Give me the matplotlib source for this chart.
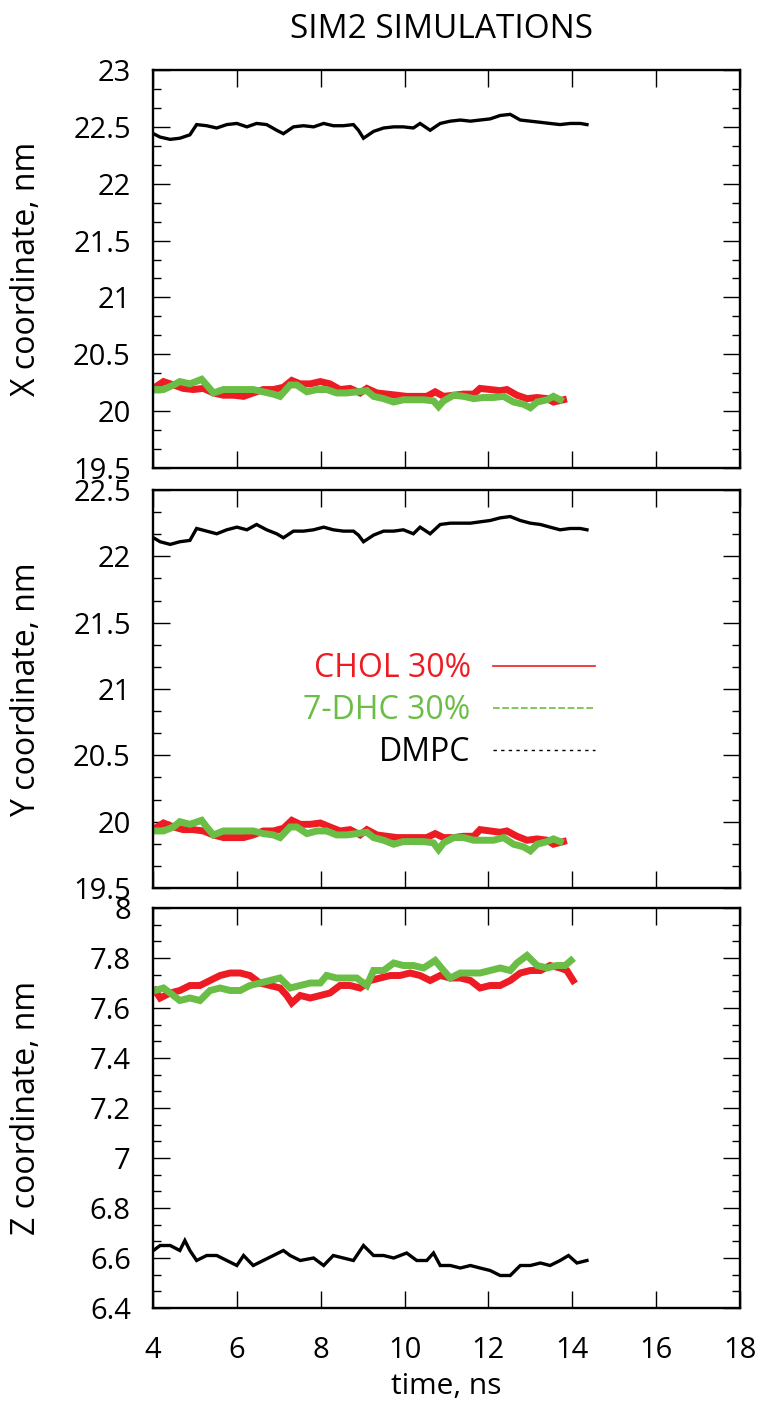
import matplotlib
matplotlib.use('Agg')
import matplotlib.pyplot as plt
from matplotlib.lines import Line2D
from matplotlib.ticker import MultipleLocator, FuncFormatter
from matplotlib.transforms import ScaledTranslation

plt.rcParams['font.family'] = ['Open Sans', 'DejaVu Sans']

# ---------------- data ----------------
title = "SIM2 SIMULATIONS"
series_labels = ["CHOL 30%", "7-DHC 30%", "DMPC"]
ylabels = ["X coordinate, nm", "Y coordinate, nm", "Z coordinate, nm"]
xlabel = "time, ns"

# DMPC (black), panels X and Y
t_dmpc = [4.01, 4.17, 4.41, 4.64, 4.88, 5.04, 5.28, 5.52, 5.76, 6.00, 6.24, 6.47, 6.71, 6.95,
          7.11, 7.35, 7.59, 7.83, 8.07, 8.30, 8.54, 8.78, 8.90, 9.02, 9.26, 9.50, 9.74, 9.97,
          10.21, 10.37, 10.61, 10.85, 11.09, 11.33, 11.57, 11.80, 12.04, 12.28, 12.52, 12.76,
          13.00, 13.24, 13.47, 13.71, 13.95, 14.19, 14.35]
x_dmpc = [22.44, 22.41, 22.39, 22.40, 22.43, 22.52, 22.51, 22.49, 22.52, 22.53, 22.50, 22.53,
          22.52, 22.47, 22.44, 22.50, 22.51, 22.50, 22.53, 22.51, 22.51, 22.52, 22.47, 22.40,
          22.46, 22.49, 22.50, 22.50, 22.49, 22.53, 22.47, 22.53, 22.55, 22.56, 22.55, 22.56,
          22.57, 22.60, 22.61, 22.56, 22.55, 22.54, 22.53, 22.52, 22.53, 22.53, 22.52]
y_dmpc = [22.14, 22.11, 22.09, 22.11, 22.12, 22.21, 22.19, 22.17, 22.20, 22.22, 22.20, 22.24,
          22.20, 22.17, 22.14, 22.19, 22.19, 22.20, 22.22, 22.20, 22.19, 22.19, 22.16, 22.11,
          22.16, 22.19, 22.19, 22.20, 22.17, 22.22, 22.17, 22.24, 22.25, 22.25, 22.25, 22.26,
          22.27, 22.29, 22.30, 22.27, 22.25, 22.24, 22.22, 22.20, 22.21, 22.21, 22.20]

# CHOL (red), panels X and Y
t_chol = [4.05, 4.25, 4.49, 4.72, 4.96, 5.20, 5.44, 5.68, 5.92, 6.16, 6.39, 6.63, 6.87, 7.11,
          7.31, 7.51, 7.75, 7.99, 8.22, 8.46, 8.70, 8.94, 9.10, 9.34, 9.58, 9.82, 10.05, 10.29,
          10.53, 10.73, 10.93, 11.17, 11.41, 11.65, 11.80, 12.04, 12.28, 12.44, 12.68, 12.92,
          13.16, 13.40, 13.55, 13.79]
x_chol = [20.21, 20.26, 20.23, 20.20, 20.19, 20.20, 20.16, 20.14, 20.14, 20.13, 20.16, 20.19,
          20.19, 20.21, 20.27, 20.24, 20.24, 20.26, 20.24, 20.19, 20.20, 20.16, 20.20, 20.16,
          20.15, 20.14, 20.13, 20.13, 20.13, 20.17, 20.13, 20.14, 20.15, 20.15, 20.20, 20.19,
          20.18, 20.19, 20.14, 20.11, 20.12, 20.11, 20.08, 20.10]
y_chol = [19.95, 19.99, 19.96, 19.94, 19.94, 19.93, 19.90, 19.88, 19.88, 19.88, 19.90, 19.93,
          19.93, 19.95, 20.01, 19.98, 19.98, 19.99, 19.96, 19.93, 19.94, 19.90, 19.94, 19.90,
          19.89, 19.88, 19.88, 19.88, 19.88, 19.91, 19.88, 19.88, 19.89, 19.89, 19.94, 19.93,
          19.92, 19.93, 19.89, 19.86, 19.87, 19.86, 19.83, 19.85]

# 7-DHC (green), panels X and Y
t_dhc = [4.05, 4.25, 4.49, 4.64, 4.88, 5.16, 5.28, 5.44, 5.68, 5.92, 6.16, 6.39, 6.63, 6.87,
         7.03, 7.27, 7.43, 7.67, 7.91, 8.14, 8.38, 8.62, 8.86, 9.10, 9.26, 9.50, 9.74, 9.97,
         10.21, 10.45, 10.69, 10.81, 10.93, 11.17, 11.41, 11.65, 11.88, 12.12, 12.36, 12.60,
         12.84, 13.00, 13.16, 13.40, 13.55, 13.71]
x_dhc = [20.19, 20.19, 20.23, 20.26, 20.24, 20.28, 20.23, 20.16, 20.19, 20.19, 20.19, 20.19,
         20.17, 20.15, 20.13, 20.23, 20.23, 20.17, 20.19, 20.19, 20.16, 20.16, 20.17, 20.18,
         20.13, 20.11, 20.08, 20.10, 20.10, 20.10, 20.09, 20.04, 20.09, 20.14, 20.13, 20.11,
         20.12, 20.12, 20.13, 20.08, 20.06, 20.03, 20.08, 20.10, 20.13, 20.10]
y_dhc = [19.93, 19.93, 19.96, 20.00, 19.98, 20.01, 19.96, 19.90, 19.93, 19.93, 19.93, 19.93,
         19.91, 19.90, 19.88, 19.96, 19.96, 19.91, 19.93, 19.93, 19.90, 19.90, 19.91, 19.92,
         19.88, 19.86, 19.83, 19.85, 19.85, 19.85, 19.84, 19.79, 19.84, 19.88, 19.88, 19.86,
         19.86, 19.86, 19.88, 19.83, 19.81, 19.78, 19.83, 19.85, 19.87, 19.85]

# Z panel
t_dmpc_z = [4.01, 4.17, 4.41, 4.64, 4.76, 4.88, 5.04, 5.28, 5.52, 5.76, 6.00, 6.16, 6.39, 6.63,
            6.87, 7.11, 7.27, 7.51, 7.83, 8.07, 8.30, 8.54, 8.78, 9.02, 9.26, 9.50, 9.74, 10.05,
            10.29, 10.53, 10.69, 10.85, 11.09, 11.33, 11.57, 11.80, 12.04, 12.28, 12.52, 12.76,
            13.00, 13.24, 13.47, 13.71, 13.91, 14.11, 14.35]
z_dmpc = [6.63, 6.65, 6.65, 6.63, 6.67, 6.63, 6.59, 6.61, 6.61, 6.59, 6.57, 6.61, 6.57, 6.59,
          6.61, 6.63, 6.61, 6.59, 6.60, 6.57, 6.61, 6.60, 6.59, 6.65, 6.61, 6.61, 6.60, 6.62,
          6.59, 6.59, 6.62, 6.57, 6.57, 6.56, 6.57, 6.56, 6.55, 6.53, 6.53, 6.57, 6.57, 6.58,
          6.57, 6.59, 6.61, 6.58, 6.59]
t_chol_z = [4.05, 4.17, 4.41, 4.64, 4.88, 5.12, 5.36, 5.60, 5.84, 6.08, 6.31, 6.55, 6.79, 7.03,
            7.19, 7.31, 7.51, 7.75, 7.99, 8.22, 8.46, 8.70, 8.94, 9.18, 9.42, 9.66, 9.89, 10.13,
            10.37, 10.61, 10.85, 11.09, 11.33, 11.57, 11.80, 12.04, 12.28, 12.52, 12.76, 13.00,
            13.24, 13.47, 13.71, 13.87, 14.02]
z_chol = [7.67, 7.64, 7.66, 7.67, 7.69, 7.69, 7.71, 7.73, 7.74, 7.74, 7.73, 7.70, 7.69, 7.68,
          7.65, 7.62, 7.65, 7.64, 7.65, 7.66, 7.69, 7.69, 7.68, 7.71, 7.72, 7.73, 7.73, 7.74,
          7.73, 7.71, 7.73, 7.72, 7.72, 7.71, 7.68, 7.69, 7.69, 7.71, 7.74, 7.75, 7.75, 7.77,
          7.76, 7.75, 7.71]
t_dhc_z = [4.05, 4.25, 4.41, 4.64, 4.88, 5.12, 5.36, 5.60, 5.84, 6.08, 6.31, 6.55, 6.79, 7.03,
           7.27, 7.51, 7.75, 7.99, 8.14, 8.38, 8.62, 8.86, 9.10, 9.26, 9.50, 9.74, 9.97, 10.21,
           10.45, 10.73, 10.93, 11.09, 11.33, 11.57, 11.80, 12.04, 12.28, 12.52, 12.68, 12.92,
           13.16, 13.40, 13.63, 13.83, 13.97]
z_dhc = [7.67, 7.68, 7.66, 7.63, 7.64, 7.63, 7.67, 7.68, 7.67, 7.67, 7.69, 7.70, 7.71, 7.72,
         7.68, 7.69, 7.70, 7.70, 7.73, 7.72, 7.72, 7.72, 7.69, 7.75, 7.75, 7.78, 7.77, 7.77,
         7.76, 7.79, 7.75, 7.72, 7.74, 7.74, 7.74, 7.75, 7.76, 7.75, 7.78, 7.81, 7.77, 7.76,
         7.77, 7.77, 7.79]

xlim = (4, 18)
ylims = [(19.5, 23), (19.5, 22.5), (6.4, 8)]
ymajor = [0.5, 0.5, 0.2]

RED = '#ED1C24'
GREEN = '#6ABD45'
BLACK = '#000000'

# ---------------- figure ----------------
W_PX, H_PX = 762, 1401
fig = plt.figure(figsize=(W_PX / 100, H_PX / 100), dpi=100)
left = 153 / W_PX
width = (740 - 153) / W_PX
ax1 = fig.add_axes([left, 1 - 468 / H_PX, width, 398 / H_PX])
ax2 = fig.add_axes([left, 1 - 888 / H_PX, width, 398 / H_PX])
ax3 = fig.add_axes([left, 1 - 1308 / H_PX, width, 400 / H_PX])
axes = [ax1, ax2, ax3]

FS_TICK = 21
FS_LAB = 23
lw_col = 5.0
lw_blk = 2.4

ax1.plot(t_chol, x_chol, color=RED, lw=lw_col, solid_joinstyle='miter')
ax1.plot(t_dhc, x_dhc, color=GREEN, lw=lw_col, solid_joinstyle='miter')
ax1.plot(t_dmpc, x_dmpc, color=BLACK, lw=lw_blk, solid_joinstyle='miter')

ax2.plot(t_chol, y_chol, color=RED, lw=lw_col, solid_joinstyle='miter')
ax2.plot(t_dhc, y_dhc, color=GREEN, lw=lw_col, solid_joinstyle='miter')
ax2.plot(t_dmpc, y_dmpc, color=BLACK, lw=lw_blk, solid_joinstyle='miter')

ax3.plot(t_chol_z, z_chol, color=RED, lw=lw_col, solid_joinstyle='miter')
ax3.plot(t_dhc_z, z_dhc, color=GREEN, lw=lw_col, solid_joinstyle='miter')
ax3.plot(t_dmpc_z, z_dmpc, color=BLACK, lw=lw_blk, solid_joinstyle='miter')

fmt = FuncFormatter(lambda v, p: ('%g' % round(v, 3)))
for i, ax in enumerate(axes):
    ax.set_xlim(*xlim)
    ax.set_ylim(*ylims[i])
    ax.xaxis.set_major_locator(MultipleLocator(2))
    ax.yaxis.set_major_locator(MultipleLocator(ymajor[i]))
    ax.yaxis.set_minor_locator(MultipleLocator(ymajor[i] / 3))
    ax.yaxis.set_major_formatter(fmt)
    ax.tick_params(axis='both', which='both', direction='in', top=True, right=True,
                   labelsize=FS_TICK, width=1.0, color='black')
    ax.tick_params(axis='both', which='major', length=12)
    ax.tick_params(axis='y', which='minor', length=6)
    ax.tick_params(axis='y', which='major', pad=16)
    ax.tick_params(axis='x', which='major', pad=20)
    for s in ax.spines.values():
        s.set_linewidth(1.7)
    ax.set_ylabel(ylabels[i], fontsize=FS_LAB)
    ax.yaxis.set_label_coords(-0.188, 0.5)
    if i < 2:
        ax.tick_params(axis='x', labelbottom=False)

ax3.set_xlabel(xlabel, fontsize=FS_TICK + 0.5, labelpad=5)

# nudge the touching tick labels at panel joins apart slightly
fig.canvas.draw()
up = ScaledTranslation(0, 3 / 72, fig.dpi_scale_trans)
down = ScaledTranslation(0, -3 / 72, fig.dpi_scale_trans)
for ax, lo, hi in [(ax1, True, False), (ax2, True, True), (ax3, False, True)]:
    labs = [l for l in ax.yaxis.get_ticklabels() if l.get_text()]
    if lo and labs:
        labs[0].set_transform(labs[0].get_transform() + up)
    if hi and labs:
        labs[-1].set_transform(labs[-1].get_transform() + down)

fig.text(442 / W_PX, 1 - 30 / H_PX, title, fontsize=24, ha='center', va='center')

handles = [Line2D([], [], color=RED, lw=1.2, ls='-'),
           Line2D([], [], color=GREEN, lw=1.2, ls=(0, (4, 1.6))),
           Line2D([], [], color=BLACK, lw=1.0, ls=(0, (2.4, 3.1)))]
ax2.legend(handles, series_labels, loc='upper right',
           bbox_to_anchor=((595 - 153) / 587, (888 - 652) / 398),
           markerfirst=False, frameon=False, fontsize=FS_LAB, handlelength=3.2,
           handletextpad=0.69, labelspacing=0.28, borderpad=0, borderaxespad=0,
           labelcolor=[RED, GREEN, BLACK])

fig.savefig('out.png', dpi=100)
